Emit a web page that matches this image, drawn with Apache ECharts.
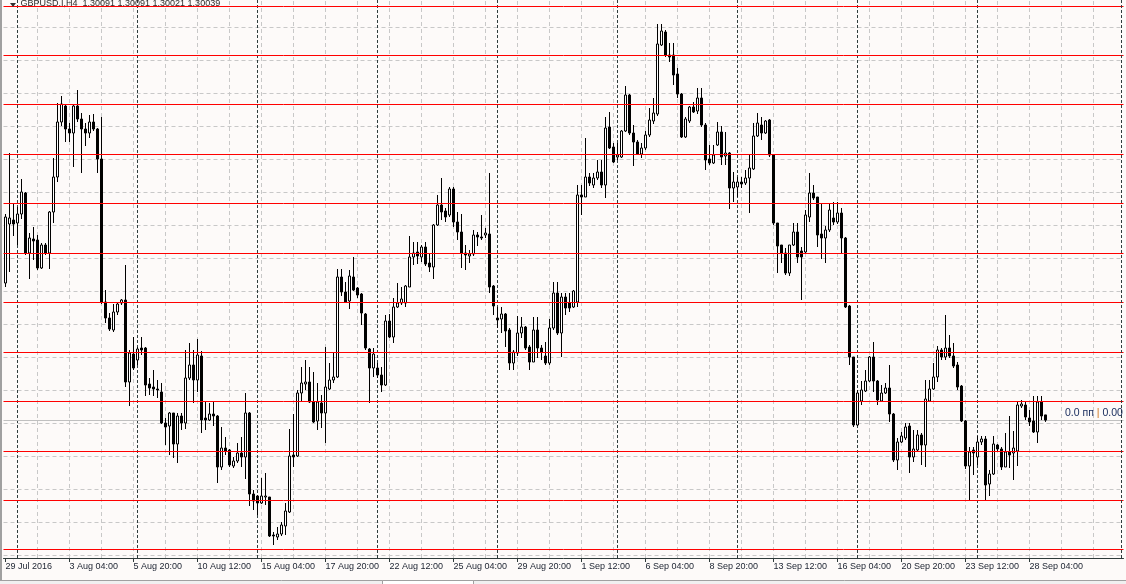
<!DOCTYPE html>
<html>
<head>
<meta charset="utf-8">
<script src="https://cdn.jsdelivr.net/npm/echarts@6.0.0/dist/echarts.min.js"></script>
<style>
html,body{margin:0;padding:0;background:#fdfaf9;}
#c{width:1126px;height:584px;}
</style>
</head>
<body>
<div id="c"></div>
<script>
// ---- data (GBPUSD.I, H4) ----
const tickLabels = ["29 Jul 2016","3 Aug 04:00","5 Aug 20:00","10 Aug 12:00","15 Aug 04:00","17 Aug 20:00","22 Aug 12:00","25 Aug 04:00","29 Aug 20:00","1 Sep 12:00","6 Sep 04:00","8 Sep 20:00","13 Sep 12:00","16 Sep 04:00","20 Sep 20:00","23 Sep 12:00","28 Sep 04:00"];
const barsPerLabel = 16;
const totalSlots = 280;           // bars + empty right shift
const weekStartBars = [3,33,63,93,123,153,183,213,243];
const title = "GBPUSD.I,H4  1.30091 1.30091 1.30021 1.30039";
const bidPrice = 1.30039;

const open = [
1.3141,1.3200,1.3204,1.3201,1.3210,1.3231,1.3171,1.3185,1.3184,1.3156,
1.3179,1.3171,1.3212,1.3247,1.3302,1.3318,1.3295,1.3291,1.3318,1.3305,
1.3295,1.3291,1.3302,1.3295,1.3265,1.3122,1.3106,1.3094,1.3112,1.3121,
1.3124,1.3042,1.3070,1.3064,1.3076,1.3076,1.3040,1.3037,1.3035,1.3032,
1.3001,1.2998,1.3011,1.2980,1.3008,1.3001,1.3046,1.3059,1.3044,1.3068,
1.3006,1.3004,1.3010,1.3008,1.2957,1.2976,1.2974,1.2958,1.2963,1.2971,
1.2967,1.3011,1.2930,1.2928,1.2921,1.2927,1.2927,1.2889,1.2887,1.2890,
1.2898,1.2912,1.2969,1.2968,1.3031,1.3040,1.3042,1.3022,1.3003,1.3021,
1.3011,1.3035,1.3044,1.3047,1.3147,1.3132,1.3123,1.3147,1.3136,1.3130,
1.3110,1.3075,1.3056,1.3056,1.3049,1.3039,1.3103,1.3087,1.3117,1.3121,
1.3121,1.3137,1.3167,1.3172,1.3167,1.3177,1.3161,1.3157,1.3199,1.3219,
1.3213,1.3209,1.3235,1.3202,1.3192,1.3171,1.3168,1.3170,1.3189,1.3187,
1.3189,1.3190,1.3138,1.3106,1.3105,1.3110,1.3094,1.3061,1.3071,1.3091,
1.3097,1.3077,1.3062,1.3094,1.3076,1.3068,1.3061,1.3096,1.3131,1.3091,
1.3127,1.3121,1.3117,1.3122,1.3229,1.3227,1.3247,1.3239,1.3246,1.3252,
1.3239,1.3297,1.3277,1.3267,1.3267,1.3293,1.3329,1.3291,1.3282,1.3270,
1.3276,1.3289,1.3303,1.3310,1.3379,1.3392,1.3369,1.3369,1.3350,1.3330,
1.3287,1.3303,1.3317,1.3313,1.3326,1.3299,1.3265,1.3261,1.3279,1.3292,
1.3268,1.3271,1.3236,1.3237,1.3242,1.3241,1.3246,1.3255,1.3288,1.3299,
1.3291,1.3304,1.3269,1.3201,1.3179,1.3171,1.3151,1.3179,1.3192,1.3173,
1.3172,1.3207,1.3231,1.3227,1.3190,1.3186,1.3194,1.3206,1.3202,1.3211,
1.3186,1.3118,1.3067,1.2999,1.3023,1.3033,1.3043,1.3067,1.3043,1.3023,
1.3031,1.3036,1.3010,1.2964,1.2982,1.2986,1.2998,1.2967,1.2974,1.2989,
1.2979,1.3023,1.3035,1.3047,1.3074,1.3067,1.3076,1.3068,1.3059,1.3038,
1.3003,1.2958,1.2974,1.2967,1.2982,1.2985,1.2940,1.2950,1.2979,1.2975,
1.2957,1.2972,1.2971,1.2973,1.3018,1.3019,1.3006,1.3003,1.2992,1.3022,
1.30091];

const close = [
1.3207,1.3206,1.3200,1.3210,1.3232,1.3171,1.3186,1.3183,1.3156,1.3179,
1.3171,1.3212,1.3247,1.3302,1.3320,1.3295,1.3291,1.3318,1.3305,1.3295,
1.3291,1.3302,1.3295,1.3265,1.3122,1.3106,1.3095,1.3112,1.3120,1.3124,
1.3042,1.3071,1.3056,1.3075,1.3074,1.3039,1.3036,1.3035,1.3034,1.3001,
1.2997,1.3011,1.2980,1.3008,1.3001,1.3046,1.3059,1.3044,1.3069,1.3004,
1.3004,1.3010,1.3008,1.2957,1.2976,1.2973,1.2959,1.2963,1.2971,1.2967,
1.3011,1.2930,1.2923,1.2921,1.2928,1.2928,1.2888,1.2888,1.2890,1.2899,
1.2913,1.2968,1.2967,1.3031,1.3041,1.3042,1.3022,1.3002,1.3022,1.3011,
1.3037,1.3044,1.3047,1.3147,1.3132,1.3122,1.3148,1.3134,1.3129,1.3111,
1.3076,1.3056,1.3070,1.3049,1.3039,1.3103,1.3087,1.3117,1.3121,1.3125,
1.3138,1.3167,1.3171,1.3168,1.3177,1.3160,1.3157,1.3199,1.3219,1.3212,
1.3207,1.3235,1.3202,1.3192,1.3171,1.3169,1.3170,1.3189,1.3187,1.3186,
1.3191,1.3137,1.3118,1.3104,1.3110,1.3093,1.3061,1.3072,1.3091,1.3097,
1.3076,1.3062,1.3094,1.3076,1.3072,1.3061,1.3096,1.3131,1.3091,1.3127,
1.3116,1.3116,1.3133,1.3229,1.3227,1.3247,1.3241,1.3246,1.3252,1.3239,
1.3296,1.3276,1.3262,1.3269,1.3293,1.3329,1.3291,1.3282,1.3270,1.3276,
1.3289,1.3304,1.3311,1.3380,1.3393,1.3369,1.3367,1.3349,1.3330,1.3287,
1.3305,1.3317,1.3312,1.3326,1.3299,1.3264,1.3261,1.3269,1.3292,1.3267,
1.3271,1.3236,1.3242,1.3242,1.3240,1.3246,1.3256,1.3288,1.3301,1.3291,
1.3303,1.3269,1.3201,1.3178,1.3171,1.3151,1.3179,1.3192,1.3167,1.3167,
1.3209,1.3231,1.3226,1.3189,1.3186,1.3194,1.3214,1.3202,1.3211,1.3186,
1.3117,1.3067,1.2999,1.3031,1.3034,1.3043,1.3067,1.3043,1.3024,1.3031,
1.3036,1.3010,1.2964,1.2982,1.2988,1.2997,1.2967,1.2975,1.2989,1.2979,
1.3025,1.3035,1.3047,1.3074,1.3067,1.3076,1.3068,1.3058,1.3037,1.3003,
1.2958,1.2972,1.2971,1.2982,1.2985,1.2939,1.2950,1.2980,1.2975,1.2957,
1.2972,1.2969,1.2976,1.3019,1.3020,1.3007,1.3002,1.2992,1.3022,1.3008,
1.30039];

const low = [
1.3137,1.3152,1.3188,1.3179,1.3205,1.3169,1.3145,1.3164,1.3154,1.3155,
1.3169,1.3155,1.3201,1.3242,1.3298,1.3282,1.3282,1.3257,1.3302,1.3251,
1.3278,1.3286,1.3293,1.3251,1.3120,1.3101,1.3093,1.3092,1.3109,1.3119,
1.3037,1.3018,1.3054,1.3059,1.3069,1.3028,1.3029,1.3028,1.3026,1.3000,
1.2979,1.2969,1.2966,1.2961,1.2994,1.2995,1.3044,1.3021,1.3032,1.2991,
1.2994,1.3003,1.2998,1.2941,1.2954,1.2969,1.2957,1.2956,1.2961,1.2957,
1.2945,1.2918,1.2914,1.2909,1.2920,1.2919,1.2887,1.2879,1.2884,1.2888,
1.2889,1.2911,1.2957,1.2967,1.3022,1.3034,1.3021,1.3001,1.2994,1.2996,
1.2981,1.3034,1.3041,1.3046,1.3128,1.3121,1.3115,1.3133,1.3126,1.3099,
1.3074,1.3021,1.3047,1.3046,1.3032,1.3038,1.3086,1.3081,1.3116,1.3119,
1.3117,1.3137,1.3159,1.3160,1.3162,1.3158,1.3152,1.3145,1.3198,1.3204,
1.3202,1.3207,1.3197,1.3184,1.3156,1.3154,1.3161,1.3168,1.3178,1.3184,
1.3186,1.3131,1.3109,1.3096,1.3091,1.3077,1.3054,1.3054,1.3068,1.3086,
1.3074,1.3054,1.3062,1.3066,1.3064,1.3059,1.3059,1.3094,1.3089,1.3067,
1.3109,1.3112,1.3116,1.3117,1.3209,1.3227,1.3238,1.3236,1.3244,1.3236,
1.3226,1.3275,1.3261,1.3264,1.3266,1.3292,1.3289,1.3258,1.3269,1.3266,
1.3274,1.3287,1.3300,1.3308,1.3378,1.3367,1.3362,1.3339,1.3326,1.3286,
1.3286,1.3301,1.3311,1.3310,1.3297,1.3254,1.3259,1.3260,1.3278,1.3259,
1.3259,1.3215,1.3222,1.3227,1.3236,1.3239,1.3211,1.3254,1.3287,1.3284,
1.3290,1.3267,1.3199,1.3151,1.3161,1.3149,1.3148,1.3178,1.3161,1.3124,
1.3171,1.3202,1.3224,1.3177,1.3165,1.3161,1.3192,1.3199,1.3200,1.3171,
1.3116,1.3059,1.2997,1.2998,1.3019,1.3032,1.3042,1.3032,1.3019,1.3022,
1.3030,1.3002,1.2962,1.2954,1.2981,1.2984,1.2951,1.2962,1.2972,1.2959,
1.2957,1.3023,1.3034,1.3042,1.3064,1.3064,1.3066,1.3056,1.3034,1.3002,
1.2955,1.2924,1.2949,1.2959,1.2979,1.2924,1.2928,1.2949,1.2972,1.2954,
1.2957,1.2956,1.2944,1.2958,1.3016,1.3004,1.2998,1.2991,1.2981,1.3004,
1.30021];

const high = [
1.3210,1.3271,1.3221,1.3217,1.3245,1.3232,1.3191,1.3197,1.3189,1.3181,
1.3181,1.3213,1.3266,1.3321,1.3328,1.3319,1.3301,1.3319,1.3334,1.3311,
1.3301,1.3309,1.3310,1.3296,1.3307,1.3134,1.3111,1.3120,1.3122,1.3125,
1.3159,1.3074,1.3087,1.3077,1.3087,1.3077,1.3046,1.3054,1.3044,1.3041,
1.3006,1.3012,1.3011,1.3011,1.3011,1.3074,1.3081,1.3074,1.3085,1.3073,
1.3022,1.3021,1.3022,1.3009,1.2997,1.2987,1.2975,1.2967,1.2981,1.2987,
1.3031,1.3012,1.2934,1.2929,1.2946,1.2951,1.2927,1.2892,1.2897,1.2902,
1.2921,1.2995,1.3010,1.3034,1.3057,1.3064,1.3057,1.3052,1.3041,1.3029,
1.3077,1.3061,1.3071,1.3155,1.3155,1.3142,1.3154,1.3167,1.3137,1.3131,
1.3111,1.3076,1.3076,1.3061,1.3057,1.3109,1.3110,1.3126,1.3141,1.3137,
1.3139,1.3188,1.3182,1.3182,1.3179,1.3182,1.3171,1.3200,1.3229,1.3246,
1.3216,1.3237,1.3237,1.3212,1.3210,1.3179,1.3174,1.3194,1.3192,1.3209,
1.3196,1.3251,1.3139,1.3117,1.3117,1.3111,1.3096,1.3074,1.3108,1.3107,
1.3098,1.3079,1.3107,1.3107,1.3079,1.3082,1.3105,1.3142,1.3142,1.3131,
1.3131,1.3131,1.3134,1.3239,1.3239,1.3286,1.3251,1.3251,1.3264,1.3264,
1.3307,1.3312,1.3281,1.3281,1.3294,1.3338,1.3330,1.3299,1.3284,1.3281,
1.3293,1.3316,1.3326,1.3400,1.3400,1.3394,1.3381,1.3381,1.3356,1.3331,
1.3307,1.3318,1.3322,1.3336,1.3336,1.3301,1.3279,1.3279,1.3302,1.3298,
1.3292,1.3272,1.3252,1.3247,1.3247,1.3254,1.3269,1.3301,1.3311,1.3307,
1.3304,1.3305,1.3269,1.3201,1.3179,1.3176,1.3179,1.3201,1.3201,1.3177,
1.3214,1.3251,1.3239,1.3227,1.3221,1.3198,1.3221,1.3222,1.3222,1.3216,
1.3187,1.3119,1.3067,1.3034,1.3043,1.3054,1.3068,1.3082,1.3044,1.3039,
1.3041,1.3059,1.3011,1.2986,1.2992,1.3001,1.3001,1.2994,1.2994,1.2991,
1.3044,1.3044,1.3061,1.3078,1.3076,1.3109,1.3089,1.3081,1.3062,1.3039,
1.3004,1.2977,1.2977,1.2988,1.2988,1.2988,1.2954,1.2988,1.2980,1.2977,
1.2991,1.3008,1.2993,1.3023,1.3024,1.3023,1.3014,1.3028,1.3028,1.3028,
1.30091];

// horizontal red levels drawn on the chart
const redLevels = [1.34175,1.33685,1.33195,1.32695,1.32205,1.31705,1.31215,1.30715,1.30225,1.29725,1.29235,1.28745];
// price grid levels (dashed)
const gridLevels = [1.33965,1.33635,1.33305,1.32975,1.32645,1.32315,1.31985,1.31655,1.31325,1.30995,1.30665,1.30335,1.30005,1.29675,1.29345,1.29015,1.28685];

// ---- build ----
const categories = [];
for (let i = 0; i < totalSlots; i++) categories.push(String(i));
const isTick = (i) => i % barsPerLabel === 0 && (i / barsPerLabel) < tickLabels.length;
const candles = open.map((o, i) => [o, close[i], low[i], high[i]]);

const gridMarks = [];
gridLevels.forEach(v => gridMarks.push({yAxis: v, lineStyle: {color: '#c8c8c8', type: [4, 3], width: 1}}));
for (let i = 8; i < totalSlots; i += 8) gridMarks.push({xAxis: i, lineStyle: {color: '#c8c8c8', type: [4, 3], width: 1}});
weekStartBars.forEach(i => gridMarks.push({xAxis: i, lineStyle: {color: '#2f3d3d', type: [3, 2], width: 1}}));
gridMarks.push({yAxis: bidPrice, lineStyle: {color: '#c0c0c0', type: 'solid', width: 1}});

const redMarks = redLevels.map(v => ({yAxis: v, lineStyle: {color: '#ff0000', type: 'solid', width: 1}}));

const chart = echarts.init(document.getElementById('c'), null, {renderer: 'canvas', width: 1126, height: 584});
chart.setOption({
  backgroundColor: '#fdfaf9',
  animation: false,
  grid: {left: 3.5, right: 2.5, top: 0, bottom: 26, containLabel: false},
  xAxis: {
    type: 'category', data: categories, boundaryGap: true,
    axisLine: {show: true, lineStyle: {color: '#2e3a3a', width: 1}},
    axisTick: {show: true, alignWithLabel: true, interval: (i) => isTick(i), length: 4, lineStyle: {color: '#2e3a3a'}},
    axisLabel: {show: true, interval: (i) => isTick(i), formatter: (v, i) => tickLabels[i / barsPerLabel] || '',
      align: 'left', margin: 4, color: '#1b2230', fontFamily: 'Liberation Sans', fontSize: 9},
    splitLine: {show: false}
  },
  yAxis: {type: 'value', min: 1.2866, max: 1.3424, show: false},
  series: [
    {type: 'line', data: [], silent: true,
     markLine: {z: 1, precision: 6, silent: true, animation: false, symbol: ['none', 'none'], label: {show: false}, emphasis: {disabled: true}, data: gridMarks}},
    {type: 'candlestick', data: candles, barWidth: 2, z: 2, silent: true,
     itemStyle: {color: '#ffffff', color0: '#000000', borderColor: '#000000', borderColor0: '#000000', borderWidth: 1}},
    {type: 'line', data: [], silent: true,
     markLine: {z: 5, precision: 6, silent: true, animation: false, symbol: ['none', 'none'], label: {show: false}, emphasis: {disabled: true}, data: redMarks}}
  ],
  graphic: [
    {type: 'rect', z: 20, shape: {x: 0, y: 0, width: 2, height: 584}, style: {fill: '#a0a0a0'}},
    {type: 'line', z: 20, shape: {x1: 1121.5, y1: 0, x2: 1121.5, y2: 558}, style: {stroke: '#2f3d3d', lineWidth: 1, lineDash: [3, 2]}},
    {type: 'polygon', z: 20, shape: {points: [[10, 3], [16, 3], [13, 7]]}, style: {fill: '#303030'}},
    {type: 'text', z: 3, x: 20.5, y: 4, style: {text: title, fontFamily: 'Liberation Sans', fontSize: 9, fill: '#2a2a2a', verticalAlign: 'middle'}},
    {type: 'text', z: 20, x: 1065, y: 413, style: {
      text: '{a|0.0 пп }{b||}{a| 0.00}', verticalAlign: 'middle',
      rich: {a: {fontFamily: 'Liberation Sans', fontSize: 10.5, fill: '#14285a'}, b: {fontFamily: 'Liberation Sans', fontSize: 10.5, fill: '#d07820'}}}},
    {type: 'rect', z: 20, shape: {x: 0, y: 580, width: 1126, height: 4}, style: {fill: '#f0f0f0'}},
    {type: 'line', z: 21, shape: {x1: 0, y1: 580.5, x2: 1126, y2: 580.5}, style: {stroke: '#a0a0a0', lineWidth: 1}},
    {type: 'rect', z: 22, shape: {x: 382.5, y: 580.5, width: 91, height: 4}, style: {fill: '#ffffff', stroke: '#a0a0a0', lineWidth: 1}}
  ]
});
</script>
</body>
</html>
